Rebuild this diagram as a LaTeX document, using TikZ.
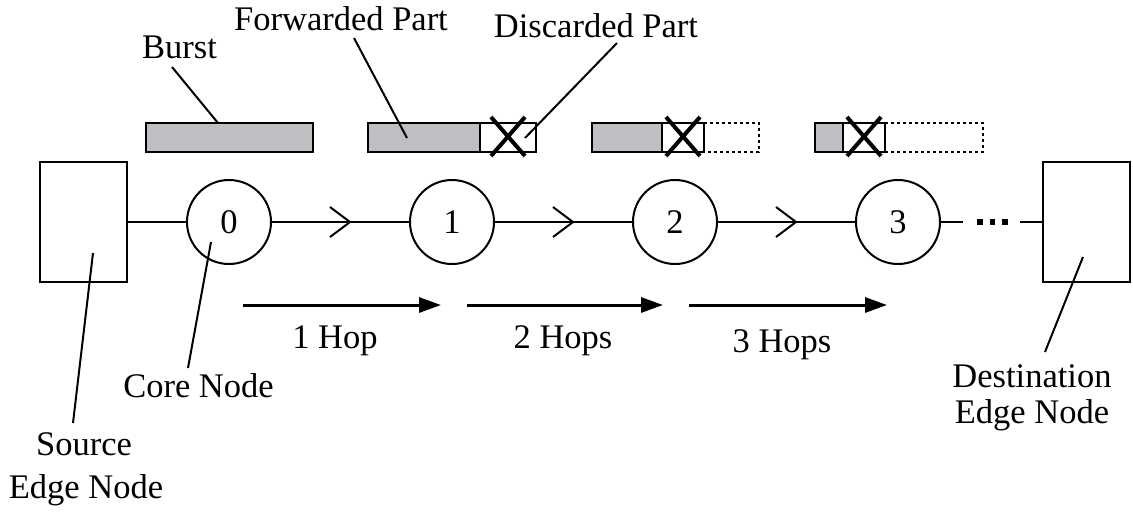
\documentclass[tikz,border=0pt]{standalone}
\usepackage{fontspec}
\setmainfont{Liberation Serif}
\usetikzlibrary{arrows.meta,decorations.markings}
\definecolor{burstgray}{RGB}{190,191,195}
\begin{document}
\begin{tikzpicture}[x=1pt,y=-1pt,
  every node/.style={font=\fontsize{34.5}{40}\selectfont},
  txt/.style={anchor=base,inner sep=0pt},
  core/.style={circle,draw,line width=2pt,minimum size=84pt,inner sep=0pt},
  edgebox/.style={draw,line width=2pt,minimum width=87pt,minimum height=120pt,inner sep=0pt},
  link/.style={line width=2pt},
  hoplink/.style={link,postaction={decorate},
    decoration={markings,mark=at position 78pt with
      {\draw[line width=2pt] (-20pt,-15pt) -- (0pt,0pt) -- (-20pt,15pt);}}},
  leader/.style={line width=2pt},
  hop/.style={line width=3pt,-{Triangle[length=22pt,width=15pt]}},
  bar/.style={draw,line width=2.5pt},
  lost/.style={draw,line width=2.5pt,dash pattern=on 3pt off 3pt},
  cross/.style={line width=4pt}
]
\useasboundingbox (0,0) rectangle (1133,512);

% edge nodes and core nodes
\node[edgebox] (src) at (83.5,222) {};
\node[edgebox] (dst) at (1086,222) {};
\node[core] (c0) at (229,222) {0};
\node[core] (c1) at (452,222) {1};
\node[core] (c2) at (675,222) {2};
\node[core] (c3) at (898,222) {3};

% links along the path
\draw[link] (src.east) -- (c0);
\draw[hoplink] (c0) -- (c1);
\draw[hoplink] (c1) -- (c2);
\draw[hoplink] (c2) -- (c3);
\coordinate (d1) at (963,222);
\coordinate (d2) at (1020,222);
\draw[link] (c3) -- (d1);
\draw[link] (d2) -- (dst.west);
\foreach \x in {980,992.5,1005} \fill (\x-2.8,219.2) rectangle (\x+2.8,224.8);

% bursts shrinking from hop to hop
\draw[bar,fill=burstgray] (146,123) rectangle (313,152);

\draw[bar,fill=burstgray] (368,123) rectangle (480,152);
\draw[bar] (480,123) rectangle (536,152);
\draw[cross] (491,117) -- (525,156) (525,117) -- (491,156);

\draw[bar,fill=burstgray] (592,123) rectangle (662,152);
\draw[bar] (662,123) rectangle (704,152);
\draw[lost] (704,123) -- (759,123) -- (759,152) -- (704,152);
\draw[cross] (666,117) -- (700,156) (700,117) -- (666,156);

\draw[bar,fill=burstgray] (815,123) rectangle (843,152);
\draw[bar] (843,123) rectangle (885,152);
\draw[lost] (885,123) -- (983,123) -- (983,152) -- (885,152);
\draw[cross] (847,117) -- (881,156) (881,117) -- (847,156);

% hop counters
\coordinate (h1a) at (243,305); \coordinate (h1b) at (441,305);
\coordinate (h2a) at (467,305); \coordinate (h2b) at (663,305);
\coordinate (h3a) at (689,305); \coordinate (h3b) at (887,305);
\draw[hop] (h1a) -- (h1b);
\draw[hop] (h2a) -- (h2b);
\draw[hop] (h3a) -- (h3b);
\node[txt] (t1) at (335,348) {1 Hop};
\node[txt] (t2) at (563,348) {2 Hops};
\node[txt] (t3) at (782,352) {3 Hops};

% labels with leader lines
\node[txt] (lburst) at (179.5,58) {Burst};
\node[txt] (lfwd) at (341,30) {Forwarded Part};
\node[txt] (ldis) at (596,37) {Discarded Part};
\node[txt] (lcore) at (198.5,397) {Core Node};
\node[txt] (lsrc) at (84,455) {Source};
\node[txt] (lsrcb) at (86,498) {Edge Node};
\node[txt] (ldst) at (1032,387) {Destination};
\node[txt] (ldstb) at (1032,423) {Edge Node};

\coordinate (pb0) at (172,67);   \coordinate (pb1) at (218,123);
\coordinate (pf0) at (354,38);   \coordinate (pf1) at (407,138);
\coordinate (pd0) at (617,43);   \coordinate (pd1) at (525,138);
\coordinate (pc0) at (211,242);  \coordinate (pc1) at (188,368);
\coordinate (ps0) at (93,253);   \coordinate (ps1) at (73,423);
\coordinate (pe0) at (1083,257); \coordinate (pe1) at (1045,352);
\draw[leader] (pb0) -- (pb1);
\draw[leader] (pf0) -- (pf1);
\draw[leader] (pd0) -- (pd1);
\draw[leader] (pc0) -- (pc1);
\draw[leader] (ps0) -- (ps1);
\draw[leader] (pe0) -- (pe1);
\end{tikzpicture}
\end{document}
